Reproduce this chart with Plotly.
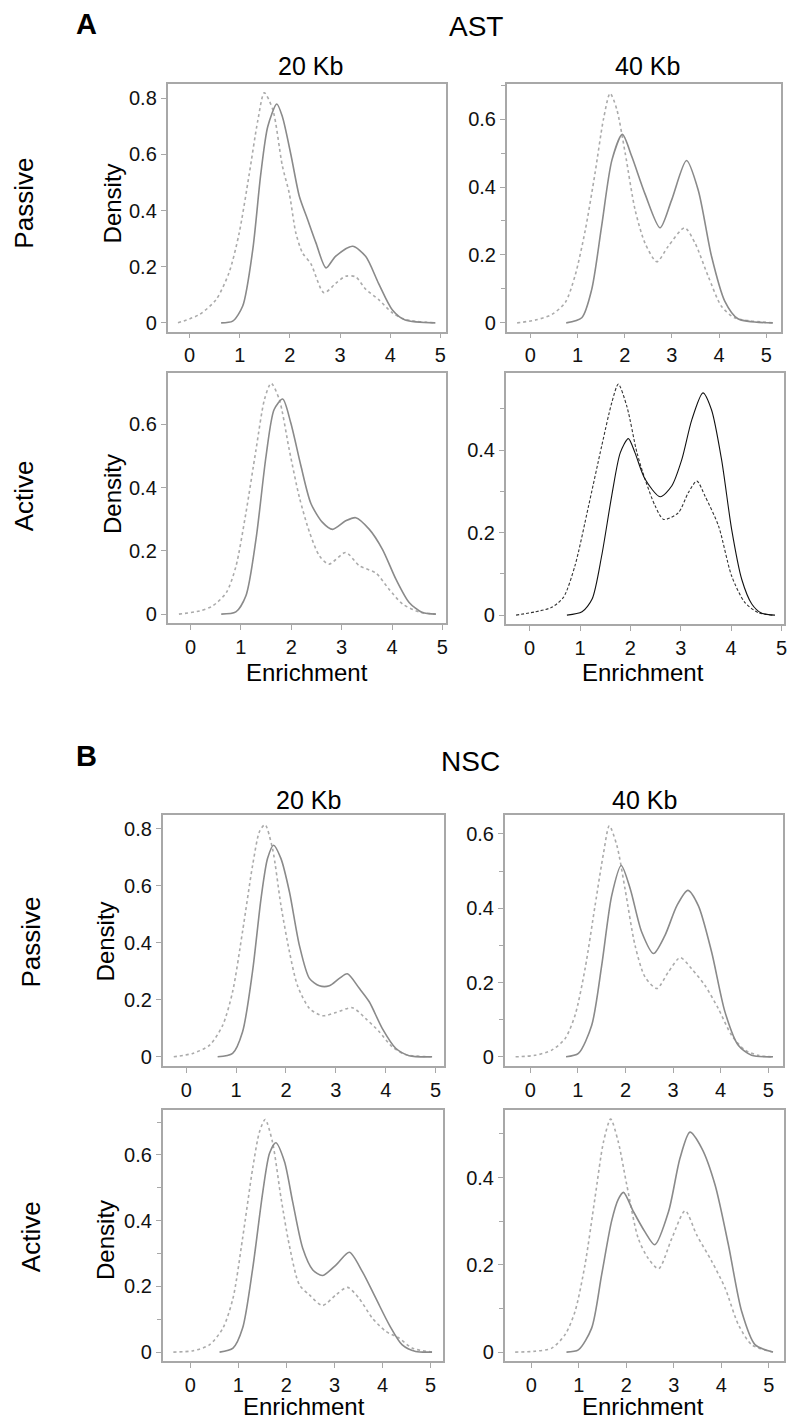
import plotly.graph_objects as go

W, H = 788, 1421

# ---------------- data ----------------
AST_P20_SOLID_X = [0.63, 0.86, 1.06, 1.26, 1.42, 1.56, 1.74, 1.85, 2.02, 2.19, 2.35, 2.52, 2.72, 2.91, 3.25, 3.51, 3.77, 4.04, 4.30, 4.90]
AST_P20_SOLID_Y = [0.0, 0.006, 0.06, 0.26, 0.53, 0.70, 0.78, 0.735, 0.60, 0.45, 0.37, 0.285, 0.196, 0.237, 0.273, 0.237, 0.14, 0.047, 0.01, 0.0]
AST_P20_DOT_X = [-0.23, 0.20, 0.53, 0.79, 0.99, 1.19, 1.36, 1.49, 1.66, 1.85, 1.99, 2.12, 2.25, 2.42, 2.68, 2.91, 3.11, 3.31, 3.51, 3.77, 4.04, 4.30, 4.90]
AST_P20_DOT_Y = [0.0, 0.03, 0.083, 0.18, 0.32, 0.53, 0.72, 0.82, 0.76, 0.56, 0.46, 0.32, 0.25, 0.21, 0.107, 0.14, 0.166, 0.164, 0.12, 0.083, 0.036, 0.012, 0.0]

AST_P40_SOLID_X = [0.76, 1.09, 1.30, 1.51, 1.73, 1.95, 2.15, 2.43, 2.75, 2.99, 3.31, 3.56, 3.84, 4.12, 4.40, 5.14]
AST_P40_SOLID_Y = [0.0, 0.015, 0.098, 0.284, 0.48, 0.555, 0.49, 0.38, 0.28, 0.36, 0.478, 0.39, 0.196, 0.064, 0.012, 0.0]
AST_P40_DOT_X = [-0.28, 0.10, 0.46, 0.74, 0.95, 1.16, 1.37, 1.55, 1.69, 1.83, 2.01, 2.22, 2.43, 2.68, 2.92, 3.27, 3.49, 3.77, 4.05, 4.33, 5.14]
AST_P40_DOT_Y = [0.0, 0.008, 0.025, 0.06, 0.14, 0.27, 0.44, 0.60, 0.676, 0.63, 0.50, 0.333, 0.235, 0.18, 0.225, 0.28, 0.235, 0.137, 0.049, 0.015, 0.0]

AST_A20_SOLID_X = [0.61, 0.90, 1.10, 1.30, 1.50, 1.66, 1.83, 1.99, 2.19, 2.39, 2.62, 2.82, 3.08, 3.28, 3.55, 3.81, 4.08, 4.34, 4.60, 4.87]
AST_A20_SOLID_Y = [0.0, 0.007, 0.058, 0.237, 0.50, 0.647, 0.68, 0.605, 0.47, 0.35, 0.29, 0.268, 0.295, 0.305, 0.268, 0.205, 0.11, 0.037, 0.005, 0.0]
AST_A20_DOT_X = [-0.23, 0.18, 0.44, 0.71, 0.90, 1.10, 1.30, 1.47, 1.60, 1.76, 1.96, 2.16, 2.36, 2.56, 2.75, 3.08, 3.35, 3.68, 3.94, 4.21, 4.54, 4.87]
AST_A20_DOT_Y = [0.0, 0.01, 0.026, 0.068, 0.15, 0.32, 0.52, 0.68, 0.73, 0.68, 0.52, 0.37, 0.26, 0.184, 0.158, 0.195, 0.153, 0.13, 0.079, 0.032, 0.007, 0.0]

AST_A40_SOLID_X = [0.74, 1.04, 1.24, 1.43, 1.63, 1.80, 1.96, 2.09, 2.29, 2.59, 2.82, 3.02, 3.22, 3.44, 3.61, 3.81, 4.01, 4.21, 4.41, 4.60, 4.87]
AST_A40_SOLID_Y = [0.0, 0.008, 0.039, 0.144, 0.29, 0.394, 0.428, 0.394, 0.33, 0.287, 0.313, 0.377, 0.474, 0.539, 0.498, 0.377, 0.208, 0.087, 0.027, 0.005, 0.0]
AST_A40_DOT_X = [-0.27, 0.11, 0.44, 0.67, 0.90, 1.17, 1.43, 1.63, 1.76, 1.93, 2.13, 2.29, 2.49, 2.66, 2.95, 3.15, 3.32, 3.48, 3.75, 4.01, 4.27, 4.54, 4.83]
AST_A40_DOT_Y = [0.0, 0.008, 0.019, 0.043, 0.12, 0.265, 0.41, 0.515, 0.56, 0.506, 0.394, 0.33, 0.265, 0.232, 0.248, 0.297, 0.325, 0.289, 0.216, 0.095, 0.031, 0.006, 0.0]

NSC_P20_SOLID_X = [0.63, 0.93, 1.13, 1.33, 1.50, 1.63, 1.75, 1.90, 2.07, 2.27, 2.47, 2.67, 2.87, 3.07, 3.23, 3.47, 3.67, 3.93, 4.20, 4.47, 4.93]
NSC_P20_SOLID_Y = [0.0, 0.012, 0.088, 0.30, 0.555, 0.695, 0.742, 0.695, 0.578, 0.39, 0.275, 0.249, 0.249, 0.275, 0.291, 0.24, 0.193, 0.10, 0.03, 0.004, 0.0]
NSC_P20_DOT_X = [-0.25, 0.13, 0.47, 0.73, 0.93, 1.13, 1.33, 1.47, 1.58, 1.73, 1.90, 2.07, 2.23, 2.47, 2.73, 3.00, 3.33, 3.60, 3.87, 4.13, 4.40, 4.93]
NSC_P20_DOT_Y = [0.0, 0.012, 0.041, 0.11, 0.228, 0.44, 0.67, 0.79, 0.814, 0.73, 0.53, 0.368, 0.25, 0.17, 0.144, 0.155, 0.172, 0.134, 0.088, 0.035, 0.008, 0.0]

NSC_P40_SOLID_X = [0.75, 1.01, 1.29, 1.50, 1.71, 1.91, 2.10, 2.34, 2.59, 2.83, 3.08, 3.31, 3.53, 3.81, 4.09, 4.37, 4.65, 5.10]
NSC_P40_SOLID_Y = [0.0, 0.009, 0.085, 0.246, 0.434, 0.515, 0.452, 0.336, 0.278, 0.327, 0.407, 0.448, 0.407, 0.282, 0.121, 0.031, 0.004, 0.0]
NSC_P40_DOT_X = [-0.31, 0.10, 0.45, 0.73, 0.94, 1.15, 1.36, 1.54, 1.66, 1.82, 1.99, 2.20, 2.41, 2.66, 2.90, 3.15, 3.39, 3.67, 3.95, 4.23, 4.51, 4.79, 5.10]
NSC_P40_DOT_Y = [0.0, 0.004, 0.018, 0.049, 0.112, 0.237, 0.407, 0.55, 0.622, 0.568, 0.452, 0.30, 0.215, 0.184, 0.228, 0.267, 0.237, 0.192, 0.13, 0.058, 0.018, 0.004, 0.0]

NSC_A20_SOLID_X = [0.61, 0.89, 1.09, 1.30, 1.51, 1.65, 1.78, 1.96, 2.13, 2.34, 2.55, 2.75, 3.03, 3.31, 3.58, 3.86, 4.14, 4.41, 4.69, 5.03]
NSC_A20_SOLID_Y = [0.0, 0.012, 0.073, 0.255, 0.488, 0.605, 0.637, 0.58, 0.458, 0.316, 0.25, 0.233, 0.265, 0.304, 0.245, 0.164, 0.083, 0.022, 0.002, 0.0]
NSC_A20_DOT_X = [-0.35, 0.06, 0.40, 0.68, 0.89, 1.09, 1.30, 1.44, 1.56, 1.71, 1.89, 2.06, 2.27, 2.48, 2.75, 3.03, 3.27, 3.51, 3.79, 4.07, 4.34, 4.62, 5.03]
NSC_A20_DOT_Y = [0.0, 0.004, 0.022, 0.073, 0.164, 0.347, 0.56, 0.67, 0.708, 0.64, 0.468, 0.326, 0.205, 0.174, 0.142, 0.174, 0.197, 0.164, 0.103, 0.063, 0.043, 0.012, 0.0]

NSC_A40_SOLID_X = [0.74, 0.99, 1.27, 1.48, 1.69, 1.83, 1.94, 2.15, 2.39, 2.60, 2.89, 3.13, 3.34, 3.59, 3.87, 4.15, 4.43, 4.71, 5.09]
NSC_A40_SOLID_Y = [0.0, 0.005, 0.055, 0.177, 0.300, 0.350, 0.366, 0.322, 0.276, 0.246, 0.322, 0.444, 0.504, 0.467, 0.383, 0.246, 0.093, 0.017, 0.0]
NSC_A40_DOT_X = [-0.34, 0.08, 0.43, 0.71, 0.92, 1.13, 1.34, 1.52, 1.67, 1.83, 2.01, 2.25, 2.46, 2.68, 2.96, 3.24, 3.48, 3.80, 4.08, 4.36, 4.64, 5.09]
NSC_A40_DOT_Y = [0.0, 0.002, 0.009, 0.04, 0.093, 0.20, 0.353, 0.482, 0.534, 0.482, 0.383, 0.261, 0.215, 0.191, 0.261, 0.324, 0.269, 0.208, 0.147, 0.063, 0.017, 0.0]

X_TICKS = [0, 1, 2, 3, 4, 5]
Y_TICKS_08 = [0, 0.2, 0.4, 0.6, 0.8]
Y_TICKS_06 = [0, 0.2, 0.4, 0.6]
Y_TICKS_04 = [0, 0.2, 0.4]

# ---------------- panel geometry (pixels) ----------------
panels = [
    dict(solid=(AST_P20_SOLID_X, AST_P20_SOLID_Y), dot=(AST_P20_DOT_X, AST_P20_DOT_Y),
         box=(168, 447, 84, 332), x0=190.0, xu=50.3, y0=323.3, yu=281.0, yt=Y_TICKS_08, minor=False, dark=False),
    dict(solid=(AST_P40_SOLID_X, AST_P40_SOLID_Y), dot=(AST_P40_DOT_X, AST_P40_DOT_Y),
         box=(508, 783, 84, 332), x0=531.7, xu=47.3, y0=323.3, yu=340.0, yt=Y_TICKS_06, minor=True, dark=False),
    dict(solid=(AST_A20_SOLID_X, AST_A20_SOLID_Y), dot=(AST_A20_DOT_X, AST_A20_DOT_Y),
         box=(168, 447, 374, 624), x0=191.0, xu=50.5, y0=615.0, yu=316.7, yt=Y_TICKS_06, minor=False, dark=False),
    dict(solid=(AST_A40_SOLID_X, AST_A40_SOLID_Y), dot=(AST_A40_DOT_X, AST_A40_DOT_Y),
         box=(507, 786, 374, 625), x0=531.0, xu=50.5, y0=616.0, yu=413.0, yt=Y_TICKS_04, minor=True, dark=True),
    dict(solid=(NSC_P20_SOLID_X, NSC_P20_SOLID_Y), dot=(NSC_P20_DOT_X, NSC_P20_DOT_Y),
         box=(163, 445, 816, 1068), x0=186.7, xu=50.0, y0=1058.3, yu=285.6, yt=Y_TICKS_08, minor=False, dark=False),
    dict(solid=(NSC_P40_SOLID_X, NSC_P40_SOLID_Y), dot=(NSC_P40_DOT_X, NSC_P40_DOT_Y),
         box=(506, 785, 816, 1068), x0=531.7, xu=47.7, y0=1058.3, yu=372.0, yt=Y_TICKS_06, minor=True, dark=False),
    dict(solid=(NSC_A20_SOLID_X, NSC_A20_SOLID_Y), dot=(NSC_A20_DOT_X, NSC_A20_DOT_Y),
         box=(163, 444, 1112, 1363), x0=190.7, xu=48.2, y0=1354.0, yu=329.0, yt=Y_TICKS_06, minor=True, dark=False),
    dict(solid=(NSC_A40_SOLID_X, NSC_A40_SOLID_Y), dot=(NSC_A40_DOT_X, NSC_A40_DOT_Y),
         box=(506, 786, 1112, 1363), x0=532.7, xu=47.6, y0=1354.0, yu=437.0, yt=Y_TICKS_04, minor=True, dark=False),
]

FONT = "Liberation Sans, Arial, sans-serif"
FRAME = "#a8a8a8"

fig = go.Figure()
layout = {}

def fmt(v):
    return "0" if v == 0 else ("%g" % v)

for i, p in enumerate(panels):
    n = i + 1
    xa = "x" if n == 1 else "x%d" % n
    ya = "y" if n == 1 else "y%d" % n
    L, R, T, B = p["box"]
    if p["dark"]:
        sc, dc, lw, dash = "#111111", "#333333", 1.1, "3px,2px"
    else:
        sc, dc, lw, dash = "#8a8a8a", "#ababab", 1.6, "dot"
    sx, sy = p["solid"]
    dx, dy = p["dot"]
    fig.add_trace(go.Scatter(x=dx, y=dy, mode="lines", xaxis=xa, yaxis=ya,
                             line=dict(color=dc, width=lw, dash=dash,
                                       shape="spline", smoothing=0.75),
                             showlegend=False, hoverinfo="skip"))
    fig.add_trace(go.Scatter(x=sx, y=sy, mode="lines", xaxis=xa, yaxis=ya,
                             line=dict(color=sc, width=lw, shape="spline", smoothing=0.75),
                             showlegend=False, hoverinfo="skip"))
    xr = [(L - p["x0"]) / p["xu"], (R - p["x0"]) / p["xu"]]
    yr = [(p["y0"] - B) / p["yu"], (p["y0"] - T) / p["yu"]]
    xkey = "xaxis" if n == 1 else "xaxis%d" % n
    ykey = "yaxis" if n == 1 else "yaxis%d" % n
    layout[xkey] = dict(domain=[L / W, R / W], range=xr, anchor=ya,
                        tickvals=X_TICKS, ticktext=[str(v) for v in X_TICKS],
                        ticks="outside", ticklen=5, tickcolor=FRAME, showline=True,
                        linecolor=FRAME, linewidth=1.5, mirror=True, showgrid=False,
                        zeroline=False, tickfont=dict(size=20, color="#111", family=FONT))
    ydict = dict(domain=[1 - B / H, 1 - T / H], range=yr, anchor=xa,
                 tickvals=p["yt"], ticktext=[fmt(v) for v in p["yt"]],
                 ticks="outside", ticklen=5, tickcolor=FRAME, showline=True,
                 linecolor=FRAME, linewidth=1.5, mirror=True, showgrid=False,
                 zeroline=False, tickfont=dict(size=20, color="#111", family=FONT))
    if p["minor"]:
        ydict["minor"] = dict(tick0=0, dtick=0.1, ticks="outside", ticklen=4, tickcolor=FRAME)
    layout[ykey] = ydict

annotations = []
def ann(text, x, y, size, angle=0, bold=False):
    annotations.append(dict(text=("<b>%s</b>" % text) if bold else text,
                            x=x / W, y=1 - y / H, xref="paper", yref="paper",
                            xanchor="center", yanchor="middle", showarrow=False,
                            textangle=angle, font=dict(size=size, family=FONT, color="#000")))

# Section A
ann("A", 87, 24, 29, bold=True)
ann("AST", 477, 27, 28)
ann("20 Kb", 311, 66, 25)
ann("40 Kb", 649, 66, 25)
ann("Passive", 24, 203, 26, angle=-90)
ann("Density", 113, 204, 24, angle=-90)
ann("Active", 24, 496, 26, angle=-90)
ann("Density", 113, 495, 24, angle=-90)
ann("Enrichment", 308, 673, 24)
ann("Enrichment", 645, 673, 24)
# Section B
ann("B", 87, 757, 29, bold=True)
ann("NSC", 472, 763, 28)
ann("20 Kb", 309, 801, 25)
ann("40 Kb", 646, 801, 25)
ann("Passive", 31, 943, 26, angle=-90)
ann("Density", 106, 943, 24, angle=-90)
ann("Active", 31, 1238, 26, angle=-90)
ann("Density", 106, 1242, 24, angle=-90)
ann("Enrichment", 305, 1408, 24)
ann("Enrichment", 645, 1408, 24)

fig.update_layout(width=W, height=H, margin=dict(l=0, r=0, t=0, b=0),
                  paper_bgcolor="white", plot_bgcolor="white",
                  annotations=annotations, font=dict(family=FONT), **layout)

fig.write_html("out.html")
